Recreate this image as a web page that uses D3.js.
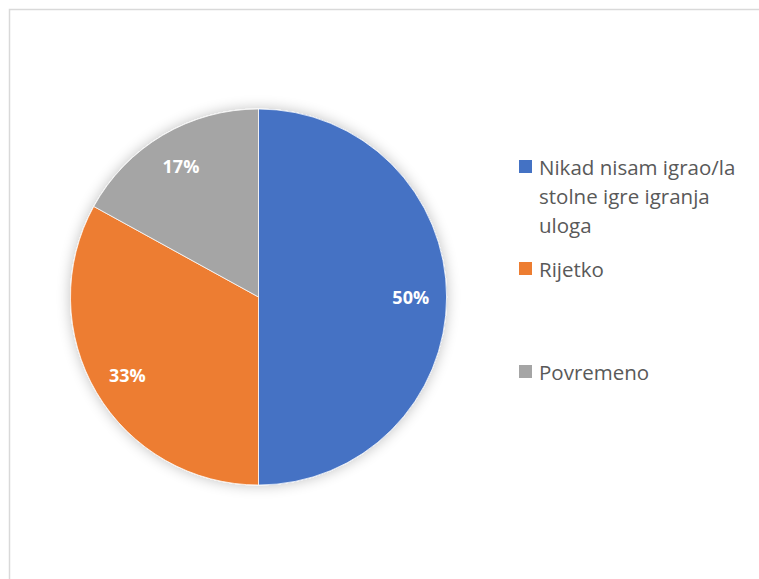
<!DOCTYPE html>
<html>
<head>
<meta charset="utf-8">
<script src="https://cdn.jsdelivr.net/npm/d3@7"></script>
<style>
  body { margin: 0; background: #fff; }
  svg { display: block; }
</style>
</head>
<body>
<div id="chart"></div>
<script>
// data
const categories = ['Nikad nisam igrao/la stolne igre igranja uloga', 'Rijetko', 'Povremeno']
const legendLines = [['Nikad nisam igrao/la', 'stolne igre igranja', 'uloga'], ['Rijetko'], ['Povremeno']]
const values = [50, 33, 17]
const labels = ['50%', '33%', '17%']
const colors = ['#4472c4', '#ed7d31', '#a5a5a5']

const width = 759, height = 579
const cx = 258.5, cy = 297, radius = 188
const font = '"Open Sans", sans-serif'

const svg = d3.select('#chart').append('svg')
    .attr('width', width)
    .attr('height', height)

// soft shadow like the office chart
const defs = svg.append('defs')
const filt = defs.append('filter').attr('id', 'shadow')
    .attr('x', '-20%').attr('y', '-20%').attr('width', '140%').attr('height', '140%')
filt.append('feGaussianBlur').attr('in', 'SourceAlpha').attr('stdDeviation', 7)
filt.append('feComponentTransfer').append('feFuncA').attr('type', 'linear').attr('slope', 0.25)
const merge = filt.append('feMerge')
merge.append('feMergeNode')
merge.append('feMergeNode').attr('in', 'SourceGraphic')

// chart border (only top and left fall inside the picture)
svg.append('rect')
    .attr('x', 9.5).attr('y', 9.5)
    .attr('width', 760).attr('height', 580)
    .attr('fill', 'none')
    .attr('stroke', '#d9d9d9')
    .attr('stroke-width', 1.5)

const pie = d3.pie().sort(null).value(d => d)
const arcs = pie(values)
const arc = d3.arc().innerRadius(0).outerRadius(radius)
const labelArc = d3.arc().innerRadius(radius * 0.81).outerRadius(radius * 0.81)

const g = svg.append('g').attr('transform', 'translate(' + cx + ',' + cy + ')')

g.append('g').attr('filter', 'url(#shadow)')
  .selectAll('path')
  .data(arcs)
  .enter()
  .append('path')
    .attr('d', arc)
    .attr('fill', (d, i) => colors[i])
    .attr('stroke', '#fff')
    .attr('stroke-width', 0.75)

g.selectAll('.lbl')
  .data(arcs)
  .enter()
  .append('text')
    .attr('class', 'lbl')
    .attr('transform', d => 'translate(' + labelArc.centroid(d) + ')')
    .attr('text-anchor', 'middle')
    .attr('dominant-baseline', 'central')
    .style('font-family', font)
    .style('font-weight', 'bold')
    .style('font-size', '18px')
    .style('fill', '#fff')
    .text((d, i) => labels[i])

// legend
const legendY = [167, 269, 372]
const lineH = 29
const legend = svg.append('g')
categories.forEach((c, i) => {
    legend.append('rect')
        .attr('x', 519).attr('y', legendY[i] - 7)
        .attr('width', 13).attr('height', 13)
        .attr('fill', colors[i])
    const t = legend.append('text')
        .attr('x', 539)
        .attr('y', legendY[i])
        .attr('dominant-baseline', 'central')
        .style('font-family', font)
        .style('font-size', '20.5px')
        .style('fill', '#595959')
    legendLines[i].forEach((ln, j) => {
        t.append('tspan').attr('x', 539).attr('dy', j == 0 ? 0 : lineH).text(ln)
    })
})
</script>
</body>
</html>
